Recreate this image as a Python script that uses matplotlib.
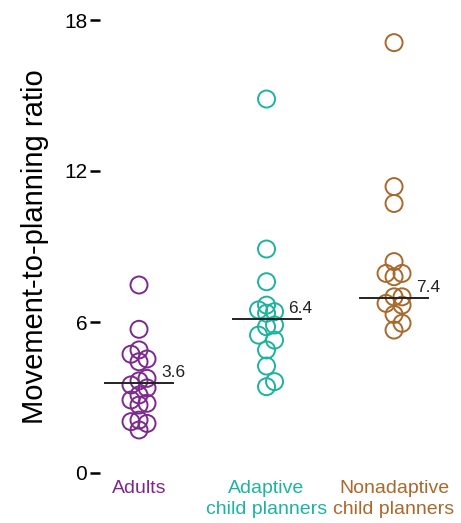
import matplotlib
matplotlib.use("Agg")
import matplotlib.pyplot as plt
import numpy as np

plt.rcParams['font.family'] = ['Liberation Sans', 'DejaVu Sans']

# ---- data ----
categories = ["Adults", "Adaptive\nchild planners", "Nonadaptive\nchild planners"]
adults = [7.47, 5.71, 4.89, 4.72, 4.53, 4.42, 3.76, 3.66, 3.50, 3.38, 3.10, 2.90,
          2.77, 2.70, 2.10, 2.04, 1.97, 1.71]
adaptive = [14.86, 8.90, 7.60, 6.67, 6.48, 6.41, 6.35, 5.88, 5.81, 5.48, 5.28,
            4.89, 4.25, 3.63, 3.43]
nonadaptive = [17.10, 11.38, 10.71, 8.40, 7.93, 7.93, 7.80, 7.00, 7.00, 6.74,
               6.67, 6.30, 5.95, 5.68]
center_lines = [3.58, 6.10, 6.97]
center_labels = ["3.6", "6.4", "7.4"]
yticks = [0, 6, 12, 18]
colors = ["#7b2a8c", "#1db3a0", "#a8692c"]

groups = [adults, adaptive, nonadaptive]

# ---- figure ----
W, H = 461, 523
fig = plt.figure(figsize=(W / 100, H / 100), dpi=100)
ax = fig.add_axes([100 / W, 50 / H, 355 / W, 453 / H])
ax.set_xlim(-0.306, 2.478)
ax.set_ylim(0, 18)
for s in ax.spines.values():
    s.set_visible(False)

ax.set_yticks(yticks)
ax.set_yticklabels([str(t) for t in yticks])
ax.tick_params(axis='y', direction='out', length=7.2, width=1.8, pad=2,
               labelsize=15, color='black')
ax.set_xticks(range(len(categories)))
ax.set_xticklabels(categories, fontsize=14)
ax.tick_params(axis='x', length=0, pad=5)
for lab, c in zip(ax.get_xticklabels(), colors):
    lab.set_color(c)
    lab.set_linespacing(1.3)
ax.set_ylabel("Movement-to-planning ratio", fontsize=21, labelpad=11)

# simple beeswarm in pixel space
fig.canvas.draw()
to_px = ax.transData.transform
step_px = 8.0
px_per_x = to_px((1, 0))[0] - to_px((0, 0))[0]
thresh = 10.0
for gi, vals in enumerate(groups):
    placed = []
    order = np.argsort(vals)
    xpos = np.zeros(len(vals))
    for idx in order:
        v = vals[idx]
        ypix = to_px((gi, v))[1]
        best = 0
        bestd = -1
        for slot in [0, 1, -1]:
            xp = slot * step_px
            if placed:
                d = min(np.hypot(xp - px, ypix - py) for px, py in placed)
            else:
                d = 1e9
            if d >= thresh:
                best = slot
                break
            if d > bestd:
                bestd = d
                best = slot
        placed.append((best * step_px, ypix))
        xpos[idx] = gi + best * step_px / px_per_x
    ax.scatter(xpos, vals, s=150, facecolors='none', edgecolors=colors[gi],
               linewidths=1.4, clip_on=False, zorder=3)

half = 34 / px_per_x
for gi, (m, lab) in enumerate(zip(center_lines, center_labels)):
    ax.plot([gi - half, gi + half], [m, m], color='#222222', lw=1.4, zorder=4,
            clip_on=False)
    ax.annotate(lab, xy=(gi + half, m), xytext=(-12, 3), textcoords='offset pixels',
                ha='left', va='bottom', fontsize=12.5, color='#222222')

fig.savefig("out.png", dpi=100)
